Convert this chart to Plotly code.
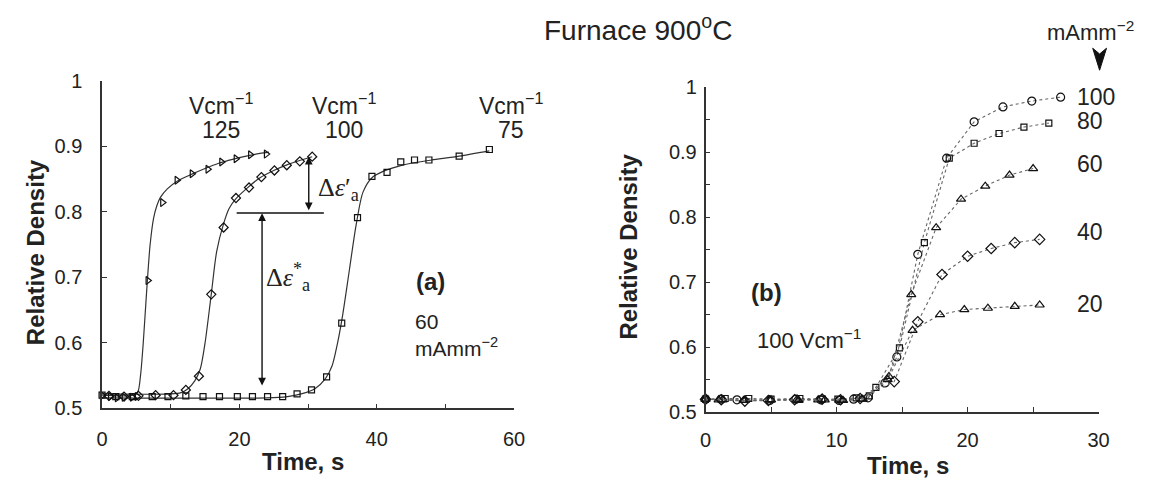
import plotly.graph_objects as go

# ---------------- Panel (a): 60 mA/mm^2, different fields ----------------
a125_x = [0, 1.2, 2.2, 3.2, 4.4, 5.1, 6.67, 8.8, 10.9, 13.1, 15.4, 17.4, 19.5, 21.6, 23.9]
a125_y = [0.52, 0.518, 0.516, 0.517, 0.517, 0.518, 0.695, 0.814, 0.848, 0.858, 0.865, 0.876, 0.881, 0.887, 0.888]
a125_fit_x = [0, 4.5, 5.2, 5.6, 6.0, 6.5, 7.0, 7.5, 8.0, 8.5, 9.5, 11, 13, 15, 17, 19, 21, 23, 24.3]
a125_fit_y = [0.52, 0.52, 0.525, 0.55, 0.60, 0.68, 0.75, 0.79, 0.81, 0.822, 0.835, 0.847, 0.857, 0.866, 0.874, 0.88, 0.885, 0.889, 0.891]

a100_x = [1.0, 3.2, 5.3, 7.8, 10.4, 12.2, 14.1, 15.9, 17.7, 19.5, 21.4, 23.2, 25.1, 26.9, 28.8, 30.6]
a100_y = [0.519, 0.518, 0.519, 0.52, 0.52, 0.528, 0.549, 0.674, 0.776, 0.821, 0.837, 0.853, 0.863, 0.871, 0.877, 0.884]
a100_fit_x = [0, 10, 11.5, 12.5, 13.5, 14.3, 15.0, 15.9, 16.7, 17.7, 18.5, 19.5, 21, 23, 25, 27, 29, 30.6]
a100_fit_y = [0.522, 0.522, 0.524, 0.53, 0.542, 0.56, 0.60, 0.674, 0.74, 0.782, 0.805, 0.82, 0.835, 0.852, 0.863, 0.872, 0.879, 0.884]

a75_x = [0, 2.0, 4.4, 7.3, 9.6, 12.2, 14.7, 17.1, 19.7, 21.9, 24.1, 26.3, 28.4, 30.5, 32.7, 34.9,
         37.2, 39.3, 41.5, 43.5, 45.5, 47.6, 52.0, 56.4]
a75_y = [0.52, 0.518, 0.518, 0.518, 0.518, 0.519, 0.518, 0.518, 0.518, 0.518, 0.518, 0.518, 0.522, 0.528, 0.548, 0.630,
         0.791, 0.854, 0.860, 0.876, 0.879, 0.879, 0.885, 0.895]
a75_fit_x = [0, 24, 27, 29, 31, 32.5, 33.5, 34.3, 35, 36, 37, 38, 39.3, 41, 43, 45, 48, 52, 56.4]
a75_fit_y = [0.516, 0.516, 0.518, 0.522, 0.53, 0.545, 0.565, 0.60, 0.64, 0.71, 0.78, 0.83, 0.852, 0.862, 0.869, 0.874, 0.879, 0.885, 0.893]

a_field_labels = ["125", "100", "75"]
a_field_label_x = [17.3, 35.2, 59.5]

# ---------------- Panel (b): 100 V/cm, different current densities ----------------
b100_x = [0, 1.2, 2.4, 4.9, 6.9, 8.8, 10.2, 11.3, 12.4, 13.7, 14.6, 16.2, 18.4, 20.5, 22.7, 24.9, 27.1]
b100_y = [0.52, 0.52, 0.519, 0.518, 0.52, 0.519, 0.518, 0.52, 0.522, 0.545, 0.585, 0.743, 0.891, 0.947, 0.970, 0.979, 0.985]
b80_x = [0, 1.5, 3.3, 5.0, 7.2, 8.9, 10.1, 11.5, 12.5, 13.0, 14.8, 16.7, 18.6, 20.5, 22.4, 24.3, 26.2]
b80_y = [0.52, 0.521, 0.521, 0.52, 0.521, 0.52, 0.52, 0.522, 0.525, 0.538, 0.599, 0.761, 0.891, 0.914, 0.929, 0.939, 0.945]
b60_x = [0, 1.3, 3.0, 4.9, 7.0, 8.6, 10.4, 11.9, 14.0, 15.7, 17.6, 19.5, 21.35, 23.2, 25.0]
b60_y = [0.52, 0.519, 0.518, 0.519, 0.52, 0.519, 0.518, 0.52, 0.555, 0.681, 0.784, 0.828, 0.848, 0.865, 0.875]
b40_x = [0, 1.2, 3.0, 4.8, 6.8, 8.9, 10.3, 11.8, 14.4, 16.2, 18.05, 20.0, 21.8, 23.6, 25.5]
b40_y = [0.52, 0.519, 0.517, 0.518, 0.519, 0.52, 0.519, 0.521, 0.547, 0.639, 0.712, 0.740, 0.752, 0.761, 0.766]
b20_x = [0, 1.0, 2.9, 5.0, 7.1, 9.1, 10.5, 12.0, 13.9, 15.8, 17.9, 19.75, 21.55, 23.6, 25.5]
b20_y = [0.52, 0.519, 0.518, 0.519, 0.518, 0.519, 0.518, 0.52, 0.55, 0.626, 0.650, 0.658, 0.660, 0.663, 0.665]

b_labels = ["100", "80", "60", "40", "20"]
b_label_y = [0.985, 0.949, 0.882, 0.778, 0.666]

W, H = 1151, 490
FONT = "Liberation Sans, Arial, Helvetica, sans-serif"
SERIF = "Liberation Serif, Times New Roman, serif"
INK = "#222222"
AX = "#333333"

fig = go.Figure()

def fit_line(x, y):
    fig.add_trace(go.Scatter(x=x, y=y, mode="lines", xaxis="x", yaxis="y",
                             line=dict(color="#333333", width=1.2, shape="spline", smoothing=0.8),
                             hoverinfo="skip", showlegend=False))

def pts(x, y, sym, xa, ya, size=7):
    fig.add_trace(go.Scatter(x=x, y=y, mode="markers", xaxis=xa, yaxis=ya, cliponaxis=False,
                             marker=dict(symbol=sym, size=size, color="#111111",
                                         line=dict(color="#111111", width=1.2)),
                             showlegend=False))

fit_line(a125_fit_x, a125_fit_y)
fit_line(a100_fit_x, a100_fit_y)
fit_line(a75_fit_x, a75_fit_y)
pts(a125_x, a125_y, "triangle-right-open", "x", "y", 7)
pts(a100_x, a100_y, "diamond-open", "x", "y", 7)
pts(a75_x, a75_y, "square-open", "x", "y", 6)

for bx, by, sym, sz in [(b100_x, b100_y, "circle-open", 8), (b80_x, b80_y, "square-open", 6),
                        (b60_x, b60_y, "triangle-up-open", 8), (b40_x, b40_y, "diamond-open", 8),
                        (b20_x, b20_y, "triangle-up-open", 8)]:
    fig.add_trace(go.Scatter(x=bx, y=by, mode="lines+markers", xaxis="x2", yaxis="y2", cliponaxis=False,
                             line=dict(color="#666666", width=1.1, dash="dot"),
                             marker=dict(symbol=sym, size=sz, color="#111111",
                                         line=dict(color="#111111", width=1.2)),
                             showlegend=False))

axis_common = dict(showline=True, linecolor=AX, linewidth=1.5, ticks="inside", ticklen=5,
                   tickcolor=AX, tickwidth=1.3, showgrid=False, zeroline=False,
                   tickfont=dict(family=FONT, size=20, color=INK))

fig.update_layout(
    width=W, height=H, margin=dict(l=0, r=0, t=0, b=0),
    paper_bgcolor="white", plot_bgcolor="white",
    xaxis=dict(domain=[97.5 / W, 515.7 / W], range=[0, 60], tickvals=[0, 20, 40, 60],
               minor=dict(dtick=10, tick0=0, ticks="inside", ticklen=5, tickcolor=AX),
               anchor="y", ticklabelstandoff=12, **axis_common),
    yaxis=dict(domain=[(H - 416) / H, (H - 73) / H], range=[0.5, 1],
               tickvals=[0.5, 0.6, 0.7, 0.8, 0.9, 1.0], ticktext=["0.5", "0.6", "0.7", "0.8", "0.9", "1"],
               anchor="x", ticklabelstandoff=14, **axis_common),
    xaxis2=dict(domain=[710 / W, 1109 / W], range=[0, 30], tickvals=[0, 10, 20, 30],
                minor=dict(dtick=5, tick0=0, ticks="inside", ticklen=5, tickcolor=AX),
                anchor="y2", ticklabelstandoff=9, **axis_common),
    yaxis2=dict(domain=[(H - 420) / H, (H - 80) / H], range=[0.5, 1],
                tickvals=[0.5, 0.6, 0.7, 0.8, 0.9, 1.0], ticktext=["0.5", "0.6", "0.7", "0.8", "0.9", "1"],
                minor=dict(dtick=0.05, tick0=0.5, ticks="inside", ticklen=5, tickcolor=AX),
                anchor="x2", ticklabelstandoff=3, **axis_common),
)

ann = []
def txt(x, y, s, xref="x", yref="y", size=21, bold=False, xanchor="center", family=FONT, align="center"):
    if bold:
        s = "<b>" + s + "</b>"
    ann.append(dict(x=x, y=y, xref=xref, yref=yref, text=s, showarrow=False, xanchor=xanchor,
                    yanchor="middle", align=align, font=dict(family=family, size=size, color=INK)))

# title & axis titles
txt(641 / W, 1 - 18 / H, "Furnace 900<sup>o</sup>C", "paper", "paper", size=28)
for xp, yp in [(30, 253), (632, 247)]:
    ann.append(dict(x=xp / W, y=1 - yp / H, xref="paper", yref="paper", text="<b>Relative Density</b>",
                    textangle=-90, showarrow=False, xanchor="center", yanchor="middle",
                    font=dict(family=FONT, size=24, color=INK)))
txt(301.7 / W, 1 - 472 / H, "Time, s", "paper", "paper", size=24, bold=True)
txt(916 / W, 1 - 476 / H, "Time, s", "paper", "paper", size=24, bold=True)

# panel (a) labels
for lab, lx in zip(a_field_labels, a_field_label_x):
    txt(lx, 0.965, "Vcm<sup>−1</sup>", size=23)
    txt(lx, 0.925, lab, size=23)
txt(47.9, 0.694, "(a)", bold=True, size=24)
txt(45.3, 0.612, "60<br>mAmm<sup>−2</sup>", xanchor="left", size=21, align="left")
txt(31.2, 0.834, "Δ<i>ε</i>′<sub>a</sub>", xanchor="left", family=SERIF, size=26)
txt(23.6, 0.700, "Δ<i>ε</i><sup>*</sup><sub>a</sub>", xanchor="left", family=SERIF, size=26)

# double arrows (data coords)
for xa, y0, y1 in [(30.1, 0.800, 0.884), (23.3, 0.800, 0.535)]:
    ann.append(dict(x=xa, y=y1, ax=xa, ay=y0, xref="x", yref="y", axref="x", ayref="y",
                    showarrow=True, arrowhead=2, arrowside="end+start", arrowsize=1.1,
                    arrowwidth=1.4, arrowcolor="#111111", text="", standoff=0, startstandoff=0))

# panel (b) labels
txt(4.67, 0.684, "(b)", xref="x2", yref="y2", bold=True, size=24)
txt(3.76, 0.613, "100 Vcm<sup>−1</sup>", xref="x2", yref="y2", xanchor="left", size=22)
for lab, ly in zip(b_labels, b_label_y):
    txt(28.2, ly, lab, xref="x2", yref="y2", xanchor="left", size=23)
txt(1101 / W, 1 - 21 / H, "mAmm<sup>−2</sup>", "paper", "paper", size=22)

fig.update_layout(annotations=ann)

# horizontal reference line at the knee in panel (a)
fig.add_shape(type="line", xref="x", yref="y", x0=19.6, x1=32.3, y0=0.798, y1=0.798,
              line=dict(color="#111111", width=1.4))

# narrow wedge arrowhead under the "mAmm-2" label (paper coords)
def P(px, py):
    return f"{px / W:.5f},{1 - py / H:.5f}"
wedge = f"M {P(1103, 39)} L {P(1110, 45)} L {P(1117, 39)} L {P(1110, 62)} Z"
fig.add_shape(type="path", xref="paper", yref="paper", path=wedge,
              fillcolor="#111111", line=dict(color="#111111", width=1))

fig.write_html("out.html")
